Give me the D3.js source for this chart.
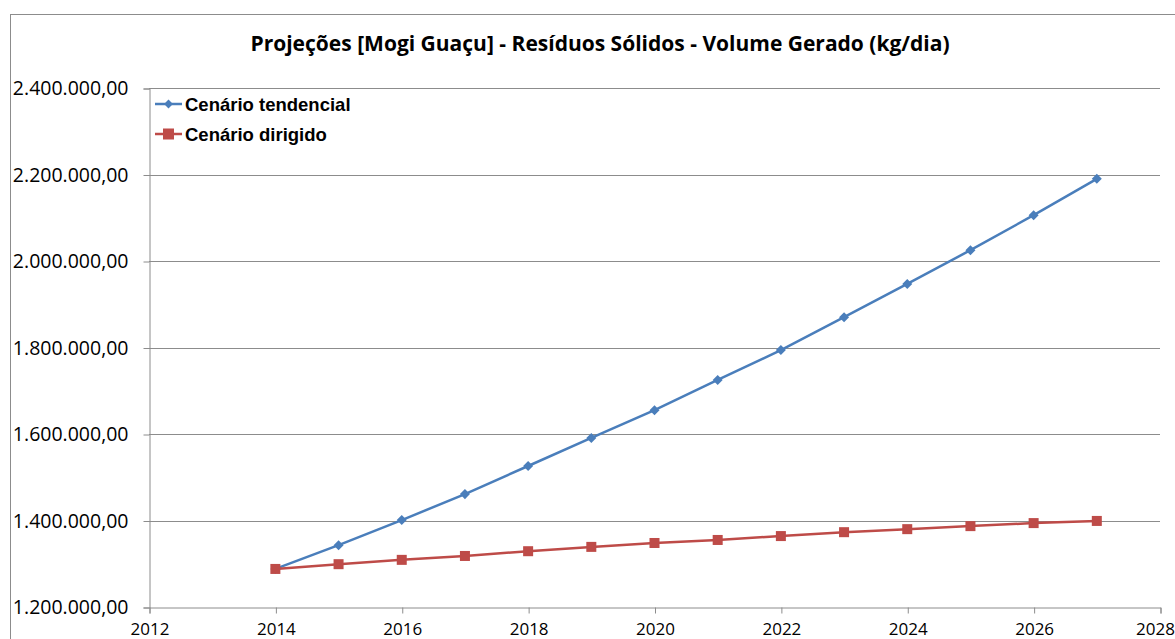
<!DOCTYPE html>
<html lang="pt">
<head>
<meta charset="utf-8">
<title>Projeções Mogi Guaçu</title>
<script src="https://d3js.org/d3.v7.min.js"></script>
<style>
  body { margin: 0; background: #fff; }
  svg text { font-family: "Open Sans", "Noto Sans", sans-serif; fill: #000; }
</style>
</head>
<body>
<script>
// data
var years = [2014, 2015, 2016, 2017, 2018, 2019, 2020, 2021, 2022, 2023, 2024, 2025, 2026, 2027];
var tendencial = [1288000, 1343000, 1401000, 1461000, 1526000, 1591000, 1655000, 1725000, 1794000, 1870000, 1947000, 2025000, 2106000, 2190000];
var dirigido = [1288000, 1299000, 1309000, 1318000, 1329000, 1339000, 1348000, 1355000, 1364000, 1373000, 1380000, 1387000, 1394000, 1399000];
var xTicks = [2012, 2014, 2016, 2018, 2020, 2022, 2024, 2026, 2028];
var yTicks = [1200000, 1400000, 1600000, 1800000, 2000000, 2200000, 2400000];
var seriesNames = ["Cenário tendencial", "Cenário dirigido"];
var title = "Projeções [Mogi Guaçu] - Resíduos Sólidos - Volume Gerado (kg/dia)";

var W = 1175, H = 639;
var plotLeft = 149, plotRight = 1160, plotTop = 88, plotBottom = 607;

var svg = d3.select("body").append("svg")
  .attr("width", W).attr("height", H);

// outer chart border
svg.append("rect")
  .attr("x", 10.5).attr("y", 14.5)
  .attr("width", W).attr("height", H)
  .attr("fill", "none").attr("stroke", "#8c8c8c");

var x = d3.scaleLinear().domain([2012, 2028]).range([plotLeft, plotRight]);
var y = d3.scaleLinear().domain([1200000, 2400000]).range([plotBottom, plotTop]);

// pt-BR number format 1.200.000,00
var ptFmt = d3.formatLocale({decimal: ",", thousands: ".", grouping: [3], currency: ["R$", ""]}).format(",.2f");

// gridlines
svg.append("g").selectAll("line").data(yTicks.slice(1)).join("line")
  .attr("x1", plotLeft).attr("x2", plotRight)
  .attr("y1", function(d) { return Math.round(y(d)) + 0.5; })
  .attr("y2", function(d) { return Math.round(y(d)) + 0.5; })
  .attr("stroke", "#8c8c8c").attr("stroke-width", 1);

// y axis
var yAxis = svg.append("g")
  .attr("transform", "translate(" + (plotLeft + 0.5) + ",0.5)")
  .call(d3.axisLeft(y).tickValues(yTicks).tickFormat(ptFmt).tickSize(6).tickPadding(15));
yAxis.selectAll("text").style("font-size", "19.5px");

// x axis
var xAxis = svg.append("g")
  .attr("transform", "translate(0.5," + (plotBottom + 0.5) + ")")
  .call(d3.axisBottom(x).tickValues(xTicks).tickFormat(d3.format("d")).tickSize(6).tickPadding(9));
xAxis.selectAll("text").style("font-size", "17px");
xAxis.selectAll(".tick:last-of-type text").attr("text-anchor", "end").attr("x", 14);
svg.selectAll(".domain, .tick line").attr("stroke", "#8c8c8c");

// title
svg.append("text")
  .attr("x", 600).attr("y", 51)
  .attr("text-anchor", "middle")
  .style("font-size", "21px").style("font-weight", "bold")
  .text(title);

var blue = "#4a7ebb", red = "#be4b48";
var line = d3.line().x(function(d) { return x(d[0]); }).y(function(d) { return y(d[1]); });

var tData = years.map(function(d, i) { return [d, tendencial[i]]; });
var dData = years.map(function(d, i) { return [d, dirigido[i]]; });

svg.append("path").datum(tData)
  .attr("d", line).attr("fill", "none").attr("stroke", blue).attr("stroke-width", 2.5);
svg.append("path").datum(dData)
  .attr("d", line).attr("fill", "none").attr("stroke", red).attr("stroke-width", 2.5);

var diamond = d3.symbol().type(d3.symbolDiamond2).size(64);
svg.append("g").selectAll("path").data(tData).join("path")
  .attr("transform", function(d) { return "translate(" + x(d[0]) + "," + y(d[1]) + ")"; })
  .attr("d", diamond).attr("fill", blue);

svg.append("g").selectAll("rect").data(dData).join("rect")
  .attr("x", function(d) { return x(d[0]) - 5; })
  .attr("y", function(d) { return y(d[1]) - 5; })
  .attr("width", 10).attr("height", 10)
  .attr("fill", red);

// legend
var legend = svg.append("g").attr("transform", "translate(155,104)");
var leg = legend.selectAll("g").data(seriesNames).join("g")
  .attr("transform", function(d, i) { return "translate(0," + (i * 30) + ")"; });
leg.append("line")
  .attr("x1", 0).attr("x2", 27).attr("y1", 0).attr("y2", 0)
  .attr("stroke", function(d, i) { return i === 0 ? blue : red; })
  .attr("stroke-width", 2.5);
leg.filter(function(d, i) { return i === 0; }).append("path")
  .attr("transform", "translate(13.5,0)")
  .attr("d", d3.symbol().type(d3.symbolDiamond2).size(50)).attr("fill", blue);
leg.filter(function(d, i) { return i === 1; }).append("rect")
  .attr("x", 8).attr("y", -5.5).attr("width", 11).attr("height", 11).attr("fill", red);
leg.append("text")
  .attr("x", 30).attr("y", 7)
  .style("font-family", "'Liberation Sans', Arial, sans-serif")
  .style("font-size", "18.5px").style("font-weight", "bold")
  .text(function(d) { return d; });
</script>
</body>
</html>
